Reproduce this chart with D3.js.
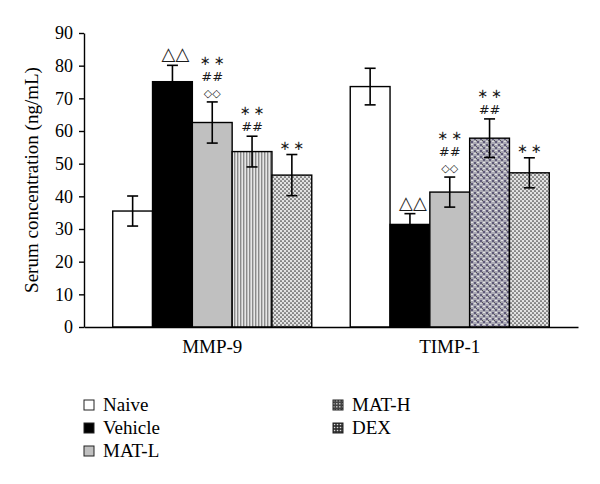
<!DOCTYPE html>
<html>
<head>
<meta charset="utf-8">
<script src="https://cdn.jsdelivr.net/npm/d3@7/dist/d3.min.js"></script>
<style>
    body { margin: 0; background: #fff; }
    text { font-family: "Liberation Serif", "DejaVu Serif", serif; fill: #000; }
    .mark { font-family: "DejaVu Sans", sans-serif; fill: #1a1a1a; }
</style>
</head>
<body>
<script>
    // data
    var groups = ["MMP-9", "TIMP-1"];
    var series = ["Naive", "Vehicle", "MAT-L", "MAT-H", "DEX"];
    var mmp9 = [35.5, 75.1, 62.6, 53.7, 46.5];
    var mmp9Err = [4.6, 5.0, 6.3, 4.7, 6.3];
    var timp1 = [73.6, 31.4, 41.3, 57.8, 47.2];
    var timp1Err = [5.6, 3.3, 4.6, 5.9, 4.6];
    var mmp9Marks = [[], ["△△"], ["∗∗", "##", "◇◇"], ["∗∗", "##"], ["∗∗"]];
    var timp1Marks = [[], ["△△"], ["∗∗", "##", "◇◇"], ["∗∗", "##"], ["∗∗"]];
    var yTicks = [0, 10, 20, 30, 40, 50, 60, 70, 80, 90];
    var legendLeft = ["Naive", "Vehicle", "MAT-L"];
    var legendRight = ["MAT-H", "DEX"];

    var width = 600, height = 484;
    var svg = d3.select("body").append("svg")
        .attr("width", width)
        .attr("height", height);

    //填充图案
    var defs = svg.append("defs");
    var stripes = defs.append("pattern").attr("id", "stripes")
        .attr("patternUnits", "userSpaceOnUse").attr("width", 3).attr("height", 4);
    stripes.append("rect").attr("width", 3).attr("height", 4).attr("fill", "#e6e6e6");
    stripes.append("rect").attr("width", 1.4).attr("height", 4).attr("fill", "#8a8a8a");

    var dots = defs.append("pattern").attr("id", "dots")
        .attr("patternUnits", "userSpaceOnUse").attr("width", 4).attr("height", 4);
    dots.append("rect").attr("width", 4).attr("height", 4).attr("fill", "#e2e2e2");
    dots.append("circle").attr("cx", 1).attr("cy", 1).attr("r", 0.85).attr("fill", "#3a3a3a");
    dots.append("circle").attr("cx", 3).attr("cy", 3).attr("r", 0.85).attr("fill", "#3a3a3a");

    var checks = defs.append("pattern").attr("id", "checks")
        .attr("patternUnits", "userSpaceOnUse").attr("width", 6).attr("height", 6);
    checks.append("rect").attr("width", 6).attr("height", 6).attr("fill", "#aaa9b4");
    checks.append("rect").attr("x", 0).attr("y", 0).attr("width", 2).attr("height", 2).attr("fill", "#5f5a78");
    checks.append("rect").attr("x", 3).attr("y", 3).attr("width", 2).attr("height", 2).attr("fill", "#5f5a78");
    checks.append("rect").attr("x", 3).attr("y", 0).attr("width", 2).attr("height", 1).attr("fill", "#e4e4e4");
    checks.append("rect").attr("x", 0).attr("y", 3).attr("width", 2).attr("height", 1).attr("fill", "#dcdcdc");
    checks.append("rect").attr("x", 2).attr("y", 2).attr("width", 1).attr("height", 1).attr("fill", "#555");

    var legDots = defs.append("pattern").attr("id", "legDots")
        .attr("patternUnits", "userSpaceOnUse").attr("width", 3).attr("height", 3);
    legDots.append("rect").attr("width", 3).attr("height", 3).attr("fill", "#333");
    legDots.append("circle").attr("cx", 1.5).attr("cy", 1.5).attr("r", 0.8).attr("fill", "#ddd");

    var legChecks = defs.append("pattern").attr("id", "legChecks")
        .attr("patternUnits", "userSpaceOnUse").attr("width", 3).attr("height", 3);
    legChecks.append("rect").attr("width", 3).attr("height", 3).attr("fill", "#444");
    legChecks.append("rect").attr("width", 1.5).attr("height", 1.5).attr("fill", "#bbb");

    var fills = {
        "MMP-9": ["#fff", "#000", "#c0c0c0", "url(#stripes)", "url(#dots)"],
        "TIMP-1": ["#fff", "#000", "#c0c0c0", "url(#checks)", "url(#dots)"]
    };
    var legendFills = ["#fff", "#000", "#c0c0c0", "url(#legChecks)", "url(#legDots)"];

    var x0 = d3.scaleBand().domain(groups).range([84, 578])
        .paddingInner(0.162).paddingOuter(0.121);
    var x1 = d3.scaleBand().domain(series).range([0, x0.bandwidth()]);
    var y = d3.scaleLinear().domain([0, 90]).range([327, 33]);

    var rows = [];
    groups.forEach(function (g, gi) {
        var vals = gi == 0 ? mmp9 : timp1;
        var errs = gi == 0 ? mmp9Err : timp1Err;
        var marks = gi == 0 ? mmp9Marks : timp1Marks;
        series.forEach(function (s, i) {
            rows.push({ group: g, name: s, i: i, value: vals[i], err: errs[i], marks: marks[i] });
        });
    });

    var bars = svg.selectAll(".bar")
        .data(rows)
        .enter()
        .append("rect")
        .attr("class", "bar")
        .attr("x", d => x0(d.group) + x1(d.name))
        .attr("y", d => y(d.value))
        .attr("width", x1.bandwidth())
        .attr("height", d => y(0) - y(d.value))
        .attr("fill", d => fills[d.group][d.i])
        .style("stroke", "#000")
        .style("stroke-width", 1.4);

    // error bars
    var cx = d => x0(d.group) + x1(d.name) + x1.bandwidth() / 2;
    var eb = svg.selectAll(".err")
        .data(rows)
        .enter()
        .append("g")
        .attr("class", "err")
        .style("stroke", "#000")
        .style("stroke-width", 1.6);
    eb.append("line")
        .attr("x1", cx).attr("x2", cx)
        .attr("y1", d => y(d.value + d.err))
        .attr("y2", d => y(d.value - d.err));
    eb.append("line")
        .attr("x1", d => cx(d) - 5.5).attr("x2", d => cx(d) + 5.5)
        .attr("y1", d => y(d.value + d.err)).attr("y2", d => y(d.value + d.err));
    eb.append("line")
        .attr("x1", d => cx(d) - 5.5).attr("x2", d => cx(d) + 5.5)
        .attr("y1", d => y(d.value - d.err)).attr("y2", d => y(d.value - d.err));

    // significance marks above error bars
    rows.forEach(function (d) {
        var n = d.marks.length;
        d.marks.forEach(function (m, k) {
            var tri = m.indexOf("△") >= 0;
            var dia = m.indexOf("◇") >= 0;
            var star = m.indexOf("∗") >= 0;
            svg.append("text")
                .attr("class", "mark")
                .attr("x", cx(d) + (tri ? 3 : 0) + (star ? 1.5 : 0))
                .attr("y", y(d.value + d.err) - 5 - (n - 1 - k) * 16)
                .attr("text-anchor", "middle")
                .style("font-size", tri ? "18px" : (dia ? "11px" : "13px"))
                .style("letter-spacing", star ? "3px" : "0px")
                .text(m);
        });
    });

    // axes
    var yAxis = svg.append("g")
        .attr("transform", "translate(84,0)")
        .call(d3.axisLeft(y).tickValues(yTicks).tickSize(5).tickSizeOuter(0).tickPadding(6));
    yAxis.selectAll("path, line").style("stroke", "#000").style("stroke-width", 1.4);
    yAxis.selectAll("text").style("font-size", "18px").style("font-family", "Liberation Serif");

    var xAxis = svg.append("g")
        .attr("transform", "translate(0,327)")
        .call(d3.axisBottom(x0).tickSize(0).tickSizeOuter(0));
    xAxis.select("path").style("stroke", "#000").style("stroke-width", 1.4);
    xAxis.selectAll("text")
        .attr("y", 26).attr("dy", "0")
        .style("font-size", "19px").style("font-family", "Liberation Serif");

    svg.append("text")
        .attr("transform", "translate(38,180) rotate(-90)")
        .attr("text-anchor", "middle")
        .style("font-size", "19px")
        .text("Serum concentration (ng/mL)");

    // legend
    var legend = svg.selectAll(".legend")
        .data(legendLeft.concat(legendRight))
        .enter()
        .append("g")
        .attr("class", "legend")
        .attr("transform", function (d, i) {
            var left = i < legendLeft.length;
            var r = left ? i : i - legendLeft.length;
            return "translate(" + (left ? 84 : 333) + "," + (400 + r * 23) + ")";
        });
    legend.append("rect")
        .attr("width", 10).attr("height", 10)
        .attr("fill", (d, i) => legendFills[i])
        .style("stroke", "#222").style("stroke-width", 1);
    legend.append("text")
        .attr("x", 19).attr("y", 11)
        .style("font-size", "19px")
        .text(d => d);
</script>
</body>
</html>
